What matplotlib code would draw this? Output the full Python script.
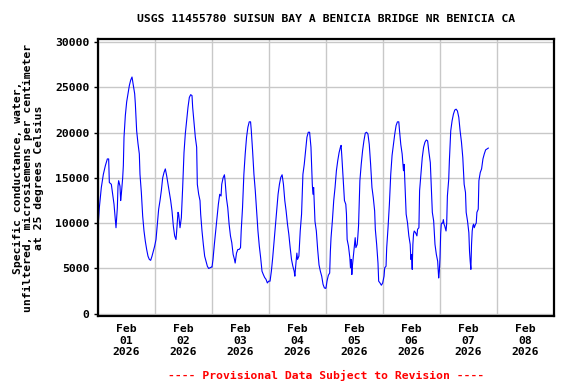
import matplotlib
matplotlib.use("Agg")
import matplotlib.pyplot as plt
import matplotlib.dates as mdates
import pandas as pd

title = "USGS 11455780 SUISUN BAY A BENICIA BRIDGE NR BENICIA CA"
ylabel = "Specific conductance, water,\nunfiltered, microsiemens per centimeter\nat 25 degrees Celsius"
footer = "---- Provisional Data Subject to Revision ----"
start = "2026-02-01 00:00"
day_labels = ["Feb\n01\n2026", "Feb\n02\n2026", "Feb\n03\n2026", "Feb\n04\n2026",
              "Feb\n05\n2026", "Feb\n06\n2026", "Feb\n07\n2026", "Feb\n08\n2026"]
y_ticks = [0, 5000, 10000, 15000, 20000, 25000, 30000]

# hours since Feb 01 00:00
hours = [0.0, 0.56, 1.40, 2.25, 3.09, 3.93, 4.49, 4.77, 5.61, 6.18, 6.74, 7.30, 7.58, 8.14, 8.42, 8.70,
         9.26, 9.54, 9.82, 10.39, 10.67, 10.95, 11.51, 12.07, 12.63, 13.19, 13.75, 14.32, 14.88, 15.44,
         15.72, 16.28, 16.84, 17.40, 17.68, 18.25, 18.81, 19.37, 19.93, 20.49, 21.05, 21.61, 22.18,
         22.74, 23.30, 23.86, 24.42, 24.98, 25.54, 26.11, 26.67, 27.23, 27.79, 28.35, 28.91, 29.47,
         30.04, 30.60, 31.16, 31.72, 32.28, 32.84, 33.12, 33.68, 33.96, 34.53, 35.09, 35.65, 36.21,
         36.77, 37.33, 37.89, 38.46, 39.02, 39.58, 39.86, 40.42, 40.98, 41.54, 41.82, 42.39, 42.95,
         43.23, 43.79, 44.35, 44.91, 45.47, 46.04, 46.60, 47.16, 47.72,
         48.0, 48.42, 48.99, 49.55, 50.12, 50.68, 51.25, 51.81, 52.10, 52.66, 53.23, 53.51, 54.07,
         54.64, 55.20, 55.77, 56.33, 56.90, 57.46, 57.75, 58.31, 58.88, 59.44, 60.01, 60.29, 60.85,
         61.42, 61.98, 62.55, 63.11, 63.68, 64.24, 64.53, 65.09, 65.66, 66.22, 66.79, 67.35, 67.92,
         68.48, 69.05, 69.61, 70.18, 70.74, 71.31, 71.87, 72.44, 73.00, 73.56, 74.13, 74.69, 75.26,
         75.82, 76.39, 76.95, 77.52, 78.08, 78.65, 79.21, 79.78, 80.34, 80.91, 81.47, 82.04, 82.60,
         82.89, 83.17, 83.73, 84.02, 84.58, 85.15, 85.71, 86.28, 86.84, 87.41, 87.97, 88.54, 89.10,
         89.67, 90.23, 90.51, 90.80, 91.36, 91.93, 92.49, 93.06, 93.62, 94.19, 94.75, 95.32, 95.88,
         96.0, 96.42, 96.99, 97.55, 97.84, 98.12, 98.68, 99.25, 99.81, 100.38, 100.94, 101.51, 102.07,
         102.36, 102.64, 103.20, 103.77, 104.33, 104.62, 104.90, 105.46, 106.03, 106.31, 106.60,
         106.88, 107.16, 107.73, 108.29, 108.58, 109.14, 109.42, 109.70, 110.27, 110.83, 111.40,
         111.96, 112.53, 113.09, 113.66, 114.22, 114.79, 115.35, 115.92, 116.48, 116.77, 117.33,
         117.89, 118.18, 118.74, 119.31, 119.87, 120.44, 120.72, 121.28, 121.56, 122.12, 122.69,
         123.26, 123.82, 124.39, 124.95, 125.52, 126.08, 126.65, 126.93, 127.49, 128.06, 128.62,
         128.91, 129.19, 129.47, 129.75, 130.32, 130.88, 131.45, 131.73, 132.01, 132.30, 132.58,
         132.86, 133.15, 133.71, 134.28, 134.56, 135.12, 135.41, 135.97, 136.53, 137.10, 137.66,
         138.23, 138.79, 139.36, 139.92, 140.49, 140.77, 141.33, 141.89, 142.46, 143.02,
         143.44, 143.72, 144.0, 144.28, 144.56, 145.13, 145.41, 145.69, 145.98, 146.54, 146.82,
         147.11, 147.67, 147.95, 148.52, 149.08, 149.65, 150.21, 150.78, 151.34, 151.91, 152.47,
         153.04, 153.60, 154.17, 154.73, 155.02, 155.58, 156.15, 156.43, 156.71, 157.00, 157.28,
         157.56, 157.85, 158.13, 158.42, 158.98, 159.25, 159.54, 160.10, 160.38, 160.95, 161.51,
         162.08, 162.64, 163.21, 163.77, 164.34]

conductance = [9500, 11700, 13950, 15400, 16350, 17100, 17100, 14500, 14300, 13200, 12100, 10400, 9500,
               11700, 14100, 14700, 14100, 12500, 13200, 15000, 16350, 19500, 21900, 23400, 24300,
               25200, 25800, 26150, 25200, 24300, 23200, 20200, 18800, 17650, 15400, 13400, 10800,
               9140, 8000, 7100, 6360, 6000, 5900, 6360, 6900, 7470, 8200, 9900, 11550, 12500, 13600,
               15000, 15600, 16000, 15250, 14300, 13400, 12500, 11350, 9700, 8600, 8200, 9100, 11200,
               11000, 9500, 10600, 13950, 17800, 19900, 21350, 22800, 23900, 24200, 24100, 22800,
               21200, 19500, 18400, 14300, 13200, 12500, 11000, 9140, 7660, 6360, 5800, 5250, 5000,
               5070, 5150,
               5150, 6000, 7660, 9140, 10600, 12100, 13200, 13000, 14300, 15000, 15350, 14700, 12800,
               11700, 9900, 8600, 7850, 6550, 6000, 5600, 6700, 7100, 7100, 7300, 9140, 11700, 15400,
               17650, 19500, 20600, 21200, 21200, 20300, 18000, 15400, 13600, 11350, 9140, 7470, 6200,
               4700, 4330, 4000, 3800, 3400, 3600, 3600, 4700, 6200, 8000, 9900, 11700, 13200, 14300,
               15050, 15350, 14300, 12500, 11350, 9900, 8800, 7300, 6000, 5250, 4700, 4150, 5070, 6700,
               6000, 6360, 9140, 11000, 15400, 16500, 18000, 19500, 20050, 20050, 18400, 14300, 13200,
               13950, 10200, 9140, 7100, 5400, 4700, 4150, 3250, 2850, 2800,
               2850, 3600, 4250, 4500, 6900, 8400, 10250, 12500, 13950, 15800, 16900, 17800, 18400,
               18600, 17500, 15050, 12500, 12100, 11000, 8200, 7470, 6200, 5070, 6000, 4330, 5400,
               6900, 8400, 7300, 7660, 8600, 9700, 14700, 16500, 18000, 19100, 19950, 20050, 19850,
               18700, 16500, 13950, 12800, 11350, 9330, 7660, 5600, 3600, 3400, 3150, 3400, 4150,
               5070, 5250, 7300, 9500, 12100, 15400, 17500, 18700, 19850, 20800, 21200, 21200, 20300,
               18700, 17650, 15800, 16500, 14700, 13200, 11000, 10050, 8600, 7660, 6000, 6550, 4900,
               7660, 8800, 9140, 8950, 8600, 9330, 9500, 13600, 15400, 17250, 18400, 18950, 19200,
               19100, 17800, 16700, 13200, 11200, 10250, 7660, 6550, 5800,
               3950, 4700, 6200, 8800, 10000, 10000, 10400, 9900, 9700, 9140, 10000, 13000, 14850,
               16900, 20200, 21300, 22050, 22500, 22600, 22400, 21700, 20200, 18950, 17250, 14300,
               13400, 11200, 10250, 8950, 6900, 5800, 4900, 7660, 9140, 9700, 9900, 9500, 9900, 10000,
               11200, 11550, 14700, 15600, 16000, 17100, 17650, 18100, 18200, 18300]

t0 = pd.Timestamp(start)
times = [t0 + pd.Timedelta(hours=h) for h in hours]

font = "DejaVu Sans Mono"
fig = plt.figure(figsize=(5.76, 3.84), dpi=100)
ax = fig.add_axes([98 / 576, 1 - 316 / 384, 456 / 576, 277 / 384])

ax.plot(times, conductance, color="#0000ff", linewidth=0.8)

ax.set_xlim(t0, t0 + pd.Timedelta(days=8))
ax.set_ylim(-250, 30350)

mid = [t0 + pd.Timedelta(hours=12 + 24 * i) for i in range(len(day_labels))]
ax.set_xticks(mid)
ax.set_xticklabels(day_labels, fontfamily=font, fontweight="bold", fontsize=8.2, linespacing=1.15)
ax.xaxis.set_minor_locator(mdates.DayLocator())
ax.tick_params(axis="x", which="major", length=0, pad=6)
ax.tick_params(axis="x", which="minor", length=0)
ax.grid(True, axis="x", which="minor", color="#c8c8c8", linewidth=1.0)

ax.set_yticks(y_ticks)
ax.set_yticklabels([str(v) for v in y_ticks], fontfamily=font, fontweight="bold", fontsize=8.2)
ax.tick_params(axis="y", length=3, width=1, pad=3)
ax.grid(True, axis="y", which="major", color="#c8c8c8", linewidth=1.0)
ax.set_axisbelow(True)

for s in ax.spines.values():
    s.set_linewidth(1.6)
    s.set_color("black")

ax.set_ylabel(ylabel, fontfamily=font, fontweight="bold", fontsize=8.2, linespacing=1.1, labelpad=8)
fig.text(326 / 576, 1 - 19 / 384, title, ha="center", va="center",
         fontfamily=font, fontweight="bold", fontsize=8.2)
fig.text(326 / 576, 1 - 375 / 384, footer, ha="center", va="center", color="#ff0000",
         fontfamily=font, fontweight="bold", fontsize=8.2)

fig.savefig("out.png", dpi=100)
